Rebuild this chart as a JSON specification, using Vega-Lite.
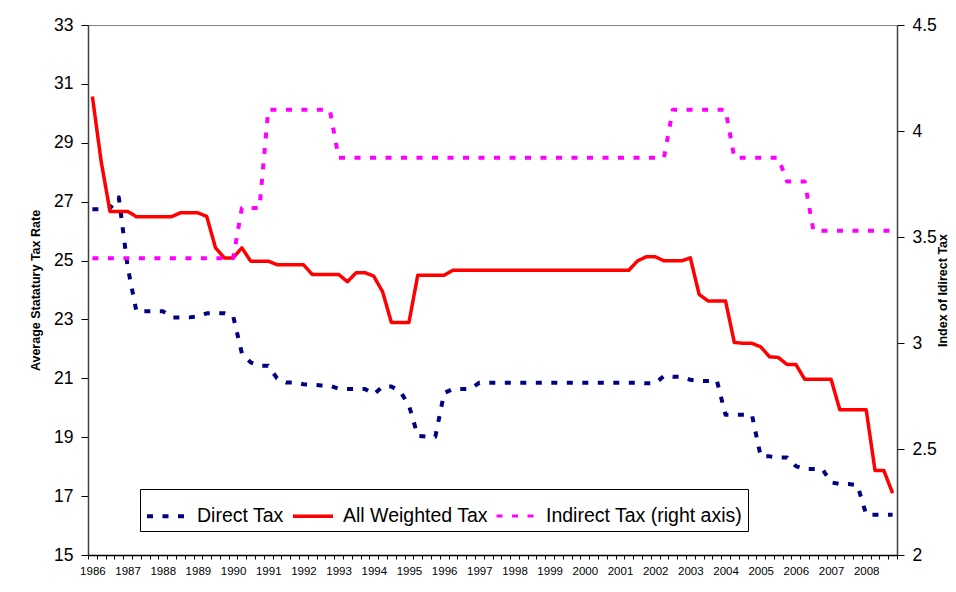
{
  "$schema": "https://vega.github.io/schema/vega-lite/v6.json",
  "description": "Average statutory tax rates 1986-2008: direct, all weighted and indirect (right axis)",
  "width": 809,
  "height": 530,
  "autosize": {"type": "none"},
  "padding": {"left": 88, "top": 25, "right": 59, "bottom": 37},
  "background": "white",
  "config": {
    "view": {"stroke": "#808080", "strokeWidth": 1},
    "font": "Liberation Sans"
  },
  "data": {
    "values": [
      {"t": 1986, "Direct Tax": 26.74, "All Weighted Tax": 30.57, "Indirect Tax (right axis)": 3.40},
      {"t": 1986.25, "Direct Tax": 26.74, "All Weighted Tax": 28.36, "Indirect Tax (right axis)": 3.40},
      {"t": 1986.5, "Direct Tax": 26.78, "All Weighted Tax": 26.67, "Indirect Tax (right axis)": 3.40},
      {"t": 1986.75, "Direct Tax": 27.15, "All Weighted Tax": 26.67, "Indirect Tax (right axis)": 3.40},
      {"t": 1987, "Direct Tax": 24.8, "All Weighted Tax": 26.67, "Indirect Tax (right axis)": 3.40},
      {"t": 1987.25, "Direct Tax": 23.28, "All Weighted Tax": 26.49, "Indirect Tax (right axis)": 3.40},
      {"t": 1987.5, "Direct Tax": 23.28, "All Weighted Tax": 26.49, "Indirect Tax (right axis)": 3.40},
      {"t": 1987.75, "Direct Tax": 23.28, "All Weighted Tax": 26.49, "Indirect Tax (right axis)": 3.40},
      {"t": 1988, "Direct Tax": 23.28, "All Weighted Tax": 26.49, "Indirect Tax (right axis)": 3.40},
      {"t": 1988.25, "Direct Tax": 23.07, "All Weighted Tax": 26.49, "Indirect Tax (right axis)": 3.40},
      {"t": 1988.5, "Direct Tax": 23.07, "All Weighted Tax": 26.62, "Indirect Tax (right axis)": 3.40},
      {"t": 1988.75, "Direct Tax": 23.07, "All Weighted Tax": 26.62, "Indirect Tax (right axis)": 3.40},
      {"t": 1989, "Direct Tax": 23.1, "All Weighted Tax": 26.62, "Indirect Tax (right axis)": 3.40},
      {"t": 1989.25, "Direct Tax": 23.21, "All Weighted Tax": 26.5, "Indirect Tax (right axis)": 3.40},
      {"t": 1989.5, "Direct Tax": 23.21, "All Weighted Tax": 25.43, "Indirect Tax (right axis)": 3.40},
      {"t": 1989.75, "Direct Tax": 23.21, "All Weighted Tax": 25.09, "Indirect Tax (right axis)": 3.40},
      {"t": 1990, "Direct Tax": 23.12, "All Weighted Tax": 25.09, "Indirect Tax (right axis)": 3.40},
      {"t": 1990.25, "Direct Tax": 21.85, "All Weighted Tax": 25.43, "Indirect Tax (right axis)": 3.637},
      {"t": 1990.5, "Direct Tax": 21.54, "All Weighted Tax": 24.98, "Indirect Tax (right axis)": 3.637},
      {"t": 1990.75, "Direct Tax": 21.43, "All Weighted Tax": 24.98, "Indirect Tax (right axis)": 3.637},
      {"t": 1991, "Direct Tax": 21.43, "All Weighted Tax": 24.98, "Indirect Tax (right axis)": 4.10},
      {"t": 1991.25, "Direct Tax": 21.0, "All Weighted Tax": 24.86, "Indirect Tax (right axis)": 4.10},
      {"t": 1991.5, "Direct Tax": 20.86, "All Weighted Tax": 24.86, "Indirect Tax (right axis)": 4.10},
      {"t": 1991.75, "Direct Tax": 20.86, "All Weighted Tax": 24.86, "Indirect Tax (right axis)": 4.10},
      {"t": 1992, "Direct Tax": 20.8, "All Weighted Tax": 24.86, "Indirect Tax (right axis)": 4.10},
      {"t": 1992.25, "Direct Tax": 20.78, "All Weighted Tax": 24.53, "Indirect Tax (right axis)": 4.10},
      {"t": 1992.5, "Direct Tax": 20.76, "All Weighted Tax": 24.53, "Indirect Tax (right axis)": 4.10},
      {"t": 1992.75, "Direct Tax": 20.75, "All Weighted Tax": 24.53, "Indirect Tax (right axis)": 4.10},
      {"t": 1993, "Direct Tax": 20.65, "All Weighted Tax": 24.53, "Indirect Tax (right axis)": 3.874},
      {"t": 1993.25, "Direct Tax": 20.64, "All Weighted Tax": 24.28, "Indirect Tax (right axis)": 3.874},
      {"t": 1993.5, "Direct Tax": 20.64, "All Weighted Tax": 24.59, "Indirect Tax (right axis)": 3.874},
      {"t": 1993.75, "Direct Tax": 20.64, "All Weighted Tax": 24.59, "Indirect Tax (right axis)": 3.874},
      {"t": 1994, "Direct Tax": 20.46, "All Weighted Tax": 24.47, "Indirect Tax (right axis)": 3.874},
      {"t": 1994.25, "Direct Tax": 20.72, "All Weighted Tax": 23.94, "Indirect Tax (right axis)": 3.874},
      {"t": 1994.5, "Direct Tax": 20.72, "All Weighted Tax": 22.9, "Indirect Tax (right axis)": 3.874},
      {"t": 1994.75, "Direct Tax": 20.56, "All Weighted Tax": 22.9, "Indirect Tax (right axis)": 3.874},
      {"t": 1995, "Direct Tax": 20.08, "All Weighted Tax": 22.9, "Indirect Tax (right axis)": 3.874},
      {"t": 1995.25, "Direct Tax": 19.05, "All Weighted Tax": 24.5, "Indirect Tax (right axis)": 3.874},
      {"t": 1995.5, "Direct Tax": 19.02, "All Weighted Tax": 24.5, "Indirect Tax (right axis)": 3.874},
      {"t": 1995.75, "Direct Tax": 19.02, "All Weighted Tax": 24.5, "Indirect Tax (right axis)": 3.874},
      {"t": 1996, "Direct Tax": 20.5, "All Weighted Tax": 24.5, "Indirect Tax (right axis)": 3.874},
      {"t": 1996.25, "Direct Tax": 20.64, "All Weighted Tax": 24.67, "Indirect Tax (right axis)": 3.874},
      {"t": 1996.5, "Direct Tax": 20.64, "All Weighted Tax": 24.67, "Indirect Tax (right axis)": 3.874},
      {"t": 1996.75, "Direct Tax": 20.64, "All Weighted Tax": 24.67, "Indirect Tax (right axis)": 3.874},
      {"t": 1997, "Direct Tax": 20.85, "All Weighted Tax": 24.67, "Indirect Tax (right axis)": 3.874},
      {"t": 1997.25, "Direct Tax": 20.85, "All Weighted Tax": 24.67, "Indirect Tax (right axis)": 3.874},
      {"t": 1997.5, "Direct Tax": 20.85, "All Weighted Tax": 24.67, "Indirect Tax (right axis)": 3.874},
      {"t": 1997.75, "Direct Tax": 20.85, "All Weighted Tax": 24.67, "Indirect Tax (right axis)": 3.874},
      {"t": 1998, "Direct Tax": 20.85, "All Weighted Tax": 24.67, "Indirect Tax (right axis)": 3.874},
      {"t": 1998.25, "Direct Tax": 20.85, "All Weighted Tax": 24.67, "Indirect Tax (right axis)": 3.874},
      {"t": 1998.5, "Direct Tax": 20.85, "All Weighted Tax": 24.67, "Indirect Tax (right axis)": 3.874},
      {"t": 1998.75, "Direct Tax": 20.85, "All Weighted Tax": 24.67, "Indirect Tax (right axis)": 3.874},
      {"t": 1999, "Direct Tax": 20.85, "All Weighted Tax": 24.67, "Indirect Tax (right axis)": 3.874},
      {"t": 1999.25, "Direct Tax": 20.85, "All Weighted Tax": 24.67, "Indirect Tax (right axis)": 3.874},
      {"t": 1999.5, "Direct Tax": 20.85, "All Weighted Tax": 24.67, "Indirect Tax (right axis)": 3.874},
      {"t": 1999.75, "Direct Tax": 20.85, "All Weighted Tax": 24.67, "Indirect Tax (right axis)": 3.874},
      {"t": 2000, "Direct Tax": 20.85, "All Weighted Tax": 24.67, "Indirect Tax (right axis)": 3.874},
      {"t": 2000.25, "Direct Tax": 20.85, "All Weighted Tax": 24.67, "Indirect Tax (right axis)": 3.874},
      {"t": 2000.5, "Direct Tax": 20.85, "All Weighted Tax": 24.67, "Indirect Tax (right axis)": 3.874},
      {"t": 2000.75, "Direct Tax": 20.85, "All Weighted Tax": 24.67, "Indirect Tax (right axis)": 3.874},
      {"t": 2001, "Direct Tax": 20.85, "All Weighted Tax": 24.67, "Indirect Tax (right axis)": 3.874},
      {"t": 2001.25, "Direct Tax": 20.85, "All Weighted Tax": 24.67, "Indirect Tax (right axis)": 3.874},
      {"t": 2001.5, "Direct Tax": 20.85, "All Weighted Tax": 24.99, "Indirect Tax (right axis)": 3.874},
      {"t": 2001.75, "Direct Tax": 20.83, "All Weighted Tax": 25.13, "Indirect Tax (right axis)": 3.874},
      {"t": 2002, "Direct Tax": 20.83, "All Weighted Tax": 25.13, "Indirect Tax (right axis)": 3.874},
      {"t": 2002.25, "Direct Tax": 21.08, "All Weighted Tax": 24.99, "Indirect Tax (right axis)": 3.874},
      {"t": 2002.5, "Direct Tax": 21.05, "All Weighted Tax": 24.99, "Indirect Tax (right axis)": 4.10},
      {"t": 2002.75, "Direct Tax": 21.05, "All Weighted Tax": 24.99, "Indirect Tax (right axis)": 4.10},
      {"t": 2003, "Direct Tax": 20.95, "All Weighted Tax": 25.09, "Indirect Tax (right axis)": 4.10},
      {"t": 2003.25, "Direct Tax": 20.91, "All Weighted Tax": 23.85, "Indirect Tax (right axis)": 4.10},
      {"t": 2003.5, "Direct Tax": 20.91, "All Weighted Tax": 23.63, "Indirect Tax (right axis)": 4.10},
      {"t": 2003.75, "Direct Tax": 20.94, "All Weighted Tax": 23.63, "Indirect Tax (right axis)": 4.10},
      {"t": 2004, "Direct Tax": 19.76, "All Weighted Tax": 23.63, "Indirect Tax (right axis)": 4.10},
      {"t": 2004.25, "Direct Tax": 19.76, "All Weighted Tax": 22.22, "Indirect Tax (right axis)": 3.874},
      {"t": 2004.5, "Direct Tax": 19.76, "All Weighted Tax": 22.19, "Indirect Tax (right axis)": 3.874},
      {"t": 2004.75, "Direct Tax": 19.76, "All Weighted Tax": 22.19, "Indirect Tax (right axis)": 3.874},
      {"t": 2005, "Direct Tax": 18.35, "All Weighted Tax": 22.07, "Indirect Tax (right axis)": 3.874},
      {"t": 2005.25, "Direct Tax": 18.35, "All Weighted Tax": 21.73, "Indirect Tax (right axis)": 3.874},
      {"t": 2005.5, "Direct Tax": 18.31, "All Weighted Tax": 21.71, "Indirect Tax (right axis)": 3.874},
      {"t": 2005.75, "Direct Tax": 18.31, "All Weighted Tax": 21.47, "Indirect Tax (right axis)": 3.762},
      {"t": 2006, "Direct Tax": 18.02, "All Weighted Tax": 21.47, "Indirect Tax (right axis)": 3.762},
      {"t": 2006.25, "Direct Tax": 17.92, "All Weighted Tax": 20.97, "Indirect Tax (right axis)": 3.762},
      {"t": 2006.5, "Direct Tax": 17.92, "All Weighted Tax": 20.97, "Indirect Tax (right axis)": 3.53},
      {"t": 2006.75, "Direct Tax": 17.92, "All Weighted Tax": 20.97, "Indirect Tax (right axis)": 3.53},
      {"t": 2007, "Direct Tax": 17.47, "All Weighted Tax": 20.97, "Indirect Tax (right axis)": 3.53},
      {"t": 2007.25, "Direct Tax": 17.41, "All Weighted Tax": 19.93, "Indirect Tax (right axis)": 3.53},
      {"t": 2007.5, "Direct Tax": 17.41, "All Weighted Tax": 19.93, "Indirect Tax (right axis)": 3.53},
      {"t": 2007.75, "Direct Tax": 17.37, "All Weighted Tax": 19.93, "Indirect Tax (right axis)": 3.53},
      {"t": 2008, "Direct Tax": 16.37, "All Weighted Tax": 19.93, "Indirect Tax (right axis)": 3.53},
      {"t": 2008.25, "Direct Tax": 16.37, "All Weighted Tax": 17.87, "Indirect Tax (right axis)": 3.53},
      {"t": 2008.5, "Direct Tax": 16.37, "All Weighted Tax": 17.87, "Indirect Tax (right axis)": 3.53},
      {"t": 2008.75, "Direct Tax": 16.37, "All Weighted Tax": 17.1, "Indirect Tax (right axis)": 3.53}
    ]
  },
  "encoding": {
    "x": {
      "field": "t",
      "type": "quantitative",
      "scale": {"domain": [1985.875, 2008.875], "nice": false, "zero": false},
      "axis": {
        "title": null,
        "grid": false,
        "values": [1985.875, 1986.125, 1986.375, 1986.625, 1986.875, 1987.125, 1987.375, 1987.625, 1987.875, 1988.125, 1988.375, 1988.625, 1988.875, 1989.125, 1989.375, 1989.625, 1989.875, 1990.125, 1990.375, 1990.625, 1990.875, 1991.125, 1991.375, 1991.625, 1991.875, 1992.125, 1992.375, 1992.625, 1992.875, 1993.125, 1993.375, 1993.625, 1993.875, 1994.125, 1994.375, 1994.625, 1994.875, 1995.125, 1995.375, 1995.625, 1995.875, 1996.125, 1996.375, 1996.625, 1996.875, 1997.125, 1997.375, 1997.625, 1997.875, 1998.125, 1998.375, 1998.625, 1998.875, 1999.125, 1999.375, 1999.625, 1999.875, 2000.125, 2000.375, 2000.625, 2000.875, 2001.125, 2001.375, 2001.625, 2001.875, 2002.125, 2002.375, 2002.625, 2002.875, 2003.125, 2003.375, 2003.625, 2003.875, 2004.125, 2004.375, 2004.625, 2004.875, 2005.125, 2005.375, 2005.625, 2005.875, 2006.125, 2006.375, 2006.625, 2006.875, 2007.125, 2007.375, 2007.625, 2007.875, 2008.125, 2008.375, 2008.625, 2008.875],
        "labelExpr": "(datum.value + 0.125) % 1 == 0 && datum.value < 2008.5 ? '' + (datum.value + 0.125) : ''",
        "labelOffset": 4.4,
        "labelOverlap": false,
        "labelBound": false,
        "labelFlush": false,
        "labelFont": "Liberation Sans",
        "labelFontSize": 11.5,
        "labelColor": "black",
        "labelPadding": 6,
        "tickSize": 4,
        "tickColor": "black",
        "domainColor": "black",
        "domainWidth": 1.5
      }
    }
  },
  "layer": [
    {
      "transform": [{"fold": ["Direct Tax", "All Weighted Tax"], "as": ["series", "value"]}],
      "mark": {"type": "line", "strokeCap": "butt", "strokeJoin": "round"},
      "encoding": {
        "y": {
          "field": "value",
          "type": "quantitative",
          "scale": {"domain": [15, 33], "nice": false, "zero": false},
          "axis": {
            "values": [15, 17, 19, 21, 23, 25, 27, 29, 31, 33],
            "grid": false,
            "title": "Average Statatury Tax Rate",
            "titleFont": "Liberation Sans",
            "titleFontSize": 12.5,
            "titleFontWeight": "bold",
            "titleColor": "black",
            "titlePadding": 11,
            "labelFont": "Liberation Sans",
            "labelFontSize": 17.5,
            "labelColor": "black",
            "labelPadding": 8,
            "labelBound": false,
            "labelFlush": false,
            "tickSize": 7,
            "tickColor": "black",
            "domainColor": "#404040",
            "domainWidth": 1.5
          }
        },
        "color": {
          "field": "series",
          "type": "nominal",
          "scale": {"domain": ["Direct Tax", "All Weighted Tax", "Indirect Tax (right axis)"], "range": ["#000080", "#FF0000", "#FF00FF"]},
          "legend": {
            "orient": "none",
            "legendX": 52,
            "legendY": 464,
            "direction": "horizontal",
            "title": null,
            "strokeColor": "black",
            "fillColor": "white",
            "padding": 5,
            "labelFont": "Liberation Sans",
            "labelFontSize": 19.5,
            "labelColor": "black",
            "labelLimit": 0,
            "labelOffset": 8,
            "columnPadding": 2,
            "symbolType": "stroke",
            "symbolSize": 1600,
            "symbolStrokeWidth": 4
          }
        },
        "strokeDash": {
          "field": "series",
          "type": "nominal",
          "scale": {"domain": ["Direct Tax", "All Weighted Tax", "Indirect Tax (right axis)"], "range": [[6, 9.5], [1, 0], [6, 9.5]]}
        },
        "strokeWidth": {
          "field": "series",
          "type": "nominal",
          "scale": {"domain": ["Direct Tax", "All Weighted Tax", "Indirect Tax (right axis)"], "range": [4, 3, 4]},
          "legend": null
        }
      }
    },
    {
      "transform": [{"fold": ["Indirect Tax (right axis)"], "as": ["series", "value"]}],
      "mark": {"type": "line", "strokeCap": "butt", "strokeJoin": "round", "strokeWidth": 4},
      "encoding": {
        "y": {
          "field": "value",
          "type": "quantitative",
          "scale": {"domain": [2, 4.5], "nice": false, "zero": false},
          "axis": {
            "orient": "right",
            "values": [2, 2.5, 3, 3.5, 4, 4.5],
            "labelExpr": "'' + datum.value",
            "grid": false,
            "title": "Index of Idirect Tax",
            "titleAngle": 270,
            "titleFont": "Liberation Sans",
            "titleFontSize": 12.5,
            "titleFontWeight": "bold",
            "titleColor": "black",
            "titlePadding": 13,
            "labelFont": "Liberation Sans",
            "labelFontSize": 17.5,
            "labelColor": "black",
            "labelPadding": 8,
            "labelBound": false,
            "labelFlush": false,
            "tickSize": 7,
            "tickColor": "black",
            "domainColor": "#404040",
            "domainWidth": 1.5
          }
        },
        "color": {"field": "series", "type": "nominal"},
        "strokeDash": {"field": "series", "type": "nominal"}
      }
    }
  ],
  "resolve": {"scale": {"y": "independent"}}
}
